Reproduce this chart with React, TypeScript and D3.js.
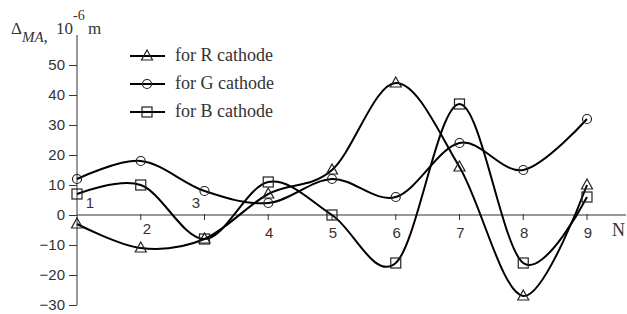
import * as d3 from "d3";
import React, { useEffect, useRef } from "react";

// N values on the x axis
const nValues = [1, 2, 3, 4, 5, 6, 7, 8, 9];
// deviation, 10^-6 m
const rCathode = [-3, -11, -8, 7, 15, 44, 16, -27, 10];
const gCathode = [12, 18, 8, 4, 12, 6, 24, 15, 32];
const bCathode = [7, 10, -8, 11, 0, -16, 37, -16, 6];
const yTicks = [-30, -20, -10, 0, 10, 20, 30, 40, 50];
const seriesNames = ["for R cathode", "for G cathode", "for B cathode"];

type Marker = "triangle" | "circle" | "square";

function drawMarker(g: d3.Selection<SVGGElement, unknown, null, undefined>, kind: Marker, x: number, y: number) {
  if (kind === "circle") {
    g.append("circle").attr("cx", x).attr("cy", y).attr("r", 4.5);
  } else if (kind === "square") {
    g.append("rect").attr("x", x - 5).attr("y", y - 5).attr("width", 10).attr("height", 10);
  } else {
    g.append("path").attr("d", `M${x},${y - 6}L${x + 5.5},${y + 4}L${x - 5.5},${y + 4}Z`);
  }
}

export default function App() {
  const ref = useRef<SVGSVGElement>(null);

  useEffect(() => {
    const svg = d3.select(ref.current);
    svg.selectAll("*").remove();

    const x = d3.scaleLinear().domain([1, 9]).range([77, 587]);
    const y = d3.scaleLinear().domain([-30, 60]).range([305, 35]);

    const series: { name: string; values: number[]; marker: Marker }[] = [
      { name: seriesNames[0], values: rCathode, marker: "triangle" },
      { name: seriesNames[1], values: gCathode, marker: "circle" },
      { name: seriesNames[2], values: bCathode, marker: "square" },
    ];

    // y axis
    const yAxis = svg.append("g").attr("transform", `translate(${x(1)},0)`);
    yAxis
      .call(d3.axisLeft(y).tickValues(yTicks).tickSize(8).tickSizeOuter(0).tickPadding(4))
      .call((g) => g.select(".domain").attr("d", `M0,${y(60)}V${y(-30)}`))
      .selectAll("text")
      .attr("font-family", "Liberation Sans, Arial, sans-serif")
      .attr("font-size", 15)
      .attr("fill", "#333");
    yAxis.selectAll("line, path").attr("stroke", "#333");

    // x axis along zero
    const xAxis = svg.append("g");
    xAxis
      .append("line")
      .attr("x1", x(1))
      .attr("x2", 626)
      .attr("y1", y(0))
      .attr("y2", y(0))
      .attr("stroke", "#333");
    xAxis
      .selectAll("line.tick")
      .data(nValues.slice(1))
      .enter()
      .append("line")
      .attr("class", "tick")
      .attr("x1", (d) => x(d))
      .attr("x2", (d) => x(d))
      .attr("y1", y(0) - 1)
      .attr("y2", y(0) + 5)
      .attr("stroke", "#333");
    // labels 1 and 3 sit above the axis, 2 a bit shifted
    const labelPos = (d: number) => {
      if (d === 1) return [90, 208];
      if (d === 3) return [196, 208];
      if (d === 2) return [147, 234];
      return [x(d) + 1, 238];
    };
    xAxis
      .selectAll("text")
      .data(nValues)
      .enter()
      .append("text")
      .attr("x", (d) => labelPos(d)[0])
      .attr("y", (d) => labelPos(d)[1])
      .attr("text-anchor", "middle")
      .attr("font-family", "Liberation Sans, Arial, sans-serif")
      .attr("font-size", 15)
      .attr("fill", "#333")
      .text((d) => d);
    svg
      .append("text")
      .attr("x", 612)
      .attr("y", 236)
      .attr("font-family", "Liberation Serif, Times New Roman, serif")
      .attr("font-size", 18)
      .attr("fill", "#333")
      .text("N");

    // y axis title
    const title = svg
      .append("text")
      .attr("x", 11)
      .attr("y", 34)
      .attr("font-family", "Liberation Serif, Times New Roman, serif")
      .attr("font-size", 17)
      .attr("fill", "#333");
    title.append("tspan").text("Δ");
    title.append("tspan").attr("dy", 8).attr("font-style", "italic").attr("font-size", 15).text("MA");
    title.append("tspan").text(",");
    title.append("tspan").attr("x", 56).attr("dy", -8).text("10");
    title.append("tspan").attr("dy", -14).attr("font-size", 14).text("-6");
    title.append("tspan").attr("x", 88).attr("dy", 14).text("m");

    // lines
    const line = d3
      .line<number>()
      .x((_, i) => x(nValues[i]))
      .y((d) => y(d))
      .curve(d3.curveCatmullRom.alpha(0));

    series.forEach((s) => {
      svg
        .append("path")
        .datum(s.values)
        .attr("d", line)
        .attr("fill", "none")
        .attr("stroke", "#000")
        .attr("stroke-width", 2);
      const mg = svg.append("g").attr("fill", "none").attr("stroke", "#222").attr("stroke-width", 1.2);
      s.values.forEach((v, i) => drawMarker(mg, s.marker, x(nValues[i]), y(v)));
    });

    // legend
    series.forEach((s, i) => {
      const ly = 56 + i * 28;
      const lg = svg.append("g");
      lg.append("line").attr("x1", 130).attr("x2", 165).attr("y1", ly).attr("y2", ly).attr("stroke", "#000").attr("stroke-width", 2);
      const mg = lg.append("g").attr("fill", "none").attr("stroke", "#222").attr("stroke-width", 1.2);
      drawMarker(mg, s.marker, 147, ly);
      lg.append("text")
        .attr("x", 175)
        .attr("y", ly + 5)
        .attr("font-family", "Liberation Serif, Times New Roman, serif")
        .attr("font-size", 18)
        .attr("fill", "#333")
        .text(s.name);
    });
  }, []);

  return (
    <svg
      ref={ref}
      width={627}
      height={314}
      style={{ position: "absolute", left: 0, top: 0, background: "#fff" }}
    />
  );
}
